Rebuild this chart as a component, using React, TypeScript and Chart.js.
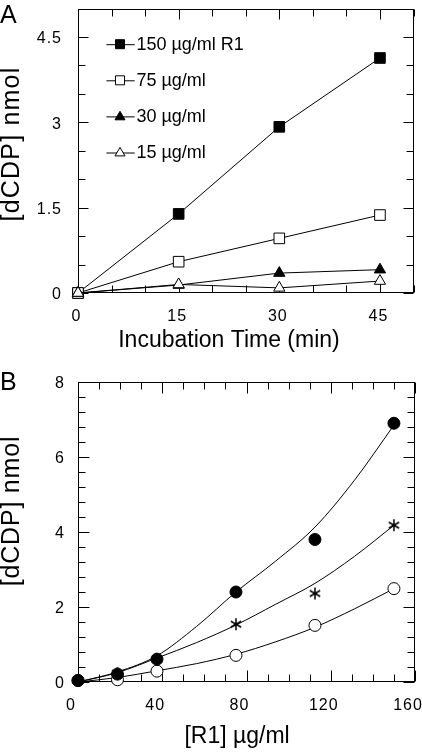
import React, { useEffect, useRef } from 'react';
import { Chart, registerables } from 'chart.js';

Chart.register(...registerables);

const FONT = '"Liberation Sans", Arial, Helvetica, sans-serif';

// ---------- Panel A data ----------
const timeMin = [0, 15, 30, 45];
const r1_150 = [0, 1.39, 2.92, 4.13];
const r1_75 = [0, 0.55, 0.96, 1.37];
const r1_30 = [0, 0.14, 0.35, 0.41];
const r1_15 = [0, 0.15, 0.09, 0.21];
const seriesLabelsA = ['150 µg/ml R1', '75 µg/ml', '30 µg/ml', '15 µg/ml'];
const xTicksA = [0, 15, 30, 45];
const yTicksA = [0, 1.5, 3, 4.5];

// ---------- Panel B data ----------
const r1Conc = [0, 18.75, 37.5, 75, 112.5, 150];
const filledB = [0.04, 0.21, 0.61, 2.4, 3.8, 6.9];
const starB = [0.04, 0.24, 0.6, 1.54, 2.36, 4.18];
const openB = [0.04, 0.06, 0.29, 0.71, 1.51, 2.49];
// fitted curves
const fitX = [0, 18.75, 37.5, 56.25, 75, 93.75, 112.5, 131.25, 150];
const fitFilled = [0, 0.27, 0.7, 1.48, 2.4, 3.22, 4.13, 5.38, 6.85];
const fitStar = [0, 0.25, 0.64, 1.05, 1.52, 2.07, 2.63, 3.35, 4.18];
const fitOpen = [0, 0.12, 0.3, 0.49, 0.74, 1.07, 1.46, 1.95, 2.49];
const xTicksB = [0, 40, 80, 120, 160];
const yTicksB = [0, 2, 4, 6, 8];

const toXY = (xs: number[], ys: number[]) => xs.map((x, i) => ({ x, y: ys[i] }));

const framePlugin = {
  id: 'frame',
  beforeDraw(chart: any) {
    (chart.ctx as any).letterSpacing = '1px';
  },
  beforeDatasetsDraw(chart: any, _a: any, opts: any) {
    const ctx = chart.ctx;
    (ctx as any).letterSpacing = '0px';
    const a = chart.chartArea;
    const xs = chart.scales.x;
    const ys = chart.scales.y;
    ctx.save();
    ctx.strokeStyle = '#000';
    ctx.lineWidth = 1;
    const L = Math.round(a.left) + 0.5;
    const R = Math.round(a.right) - 0.5;
    const T = Math.round(a.top) + 0.5;
    const B = Math.round(a.bottom) - 0.5;
    ctx.strokeRect(L, T, R - L, B - T);
    const gen = (min: number, max: number, step: number, major: number) => {
      const out: { v: number; major: boolean }[] = [];
      for (let i = 0; ; i++) {
        const v = min + i * step;
        if (v > max + 1e-9) break;
        const q = v / major;
        out.push({ v, major: Math.abs(q - Math.round(q)) < 1e-6 });
      }
      return out;
    };
    ctx.beginPath();
    for (const t of gen(xs.min, xs.max, opts.xMinor, opts.xMajor)) {
      const px = Math.round(xs.getPixelForValue(t.v)) + 0.5;
      const len = t.major ? opts.majorLen : opts.minorLen;
      ctx.moveTo(px, B);
      ctx.lineTo(px, B - len);
      ctx.moveTo(px, T);
      ctx.lineTo(px, T + len);
    }
    for (const t of gen(ys.min, ys.max, opts.yMinor, opts.yMajor)) {
      const py = Math.round(ys.getPixelForValue(t.v)) + 0.5;
      const len = t.major ? opts.majorLen : opts.minorLen;
      ctx.moveTo(L, py);
      ctx.lineTo(L + len, py);
      ctx.moveTo(R, py);
      ctx.lineTo(R - len, py);
    }
    ctx.stroke();
    ctx.restore();
  },
};

function drawMarker(ctx: CanvasRenderingContext2D, style: string, x: number, y: number, r: number, fill: string) {
  ctx.beginPath();
  if (style === 'rect') {
    ctx.rect(x - r, y - r, 2 * r, 2 * r);
  } else {
    const h = r * 1.7;
    ctx.moveTo(x, y - h * 0.6);
    ctx.lineTo(x + r, y + h * 0.4);
    ctx.lineTo(x - r, y + h * 0.4);
    ctx.closePath();
  }
  ctx.fillStyle = fill;
  ctx.fill();
  ctx.strokeStyle = '#000';
  ctx.lineWidth = 1;
  ctx.stroke();
}

const annotPlugin = {
  id: 'annot',
  afterDraw(chart: any, _a: any, opts: any) {
    const ctx: CanvasRenderingContext2D = chart.ctx;
    const a = chart.chartArea;
    ctx.save();
    (ctx as any).letterSpacing = '0px';
    ctx.fillStyle = '#000';
    // panel letter
    ctx.font = `25px ${FONT}`;
    ctx.textAlign = 'left';
    ctx.textBaseline = 'alphabetic';
    ctx.fillText(opts.panel, 0, opts.panelBaseline);
    // x title
    ctx.font = `${opts.xTitleSize}px ${FONT}`;
    ctx.textAlign = 'center';
    ctx.fillText(opts.xTitle, a.left + opts.xTitleFrac * (a.right - a.left), opts.xTitleBaseline);
    // legend
    if (opts.legend) {
      const ds = chart.data.datasets;
      ctx.font = `18px ${FONT}`;
      ctx.textAlign = 'left';
      ctx.textBaseline = 'middle';
      for (let i = 0; i < ds.length; i++) {
        const y = a.top + 35.7 + i * 36.1;
        ctx.beginPath();
        ctx.moveTo(a.left + 28.4, y + 0.5);
        ctx.lineTo(a.left + 56.7, y + 0.5);
        ctx.strokeStyle = '#000';
        ctx.lineWidth = 1;
        ctx.stroke();
        drawMarker(ctx, ds[i].pointStyle, a.left + 42, y, ds[i].pointStyle === 'rect' ? 4.5 : 5, ds[i].pointBackgroundColor);
        ctx.fillStyle = '#000';
        ctx.fillText(ds[i].label, a.left + 58.4, y + 1);
      }
    }
    // y title
    ctx.font = `${opts.yTitleSize}px ${FONT}`;
    (ctx as any).letterSpacing = opts.yTitleSpacing;
    ctx.translate(opts.yTitleX, opts.yTitleY);
    ctx.rotate(-Math.PI / 2);
    ctx.textAlign = 'center';
    ctx.textBaseline = 'middle';
    ctx.fillText(opts.yTitle, 0, 0);
    ctx.restore();
  },
};

const tickFont = { family: FONT, size: 16 };

function PanelA() {
  const ref = useRef<HTMLCanvasElement | null>(null);
  useEffect(() => {
    if (!ref.current) return;
    const base = {
      borderColor: '#000',
      borderWidth: 1,
      pointBorderColor: '#000',
      pointBorderWidth: 1,
      showLine: true,
      fill: false,
      tension: 0,
      clip: false as any,
    };
    const chart = new Chart(ref.current, {
      type: 'scatter',
      data: {
        datasets: [
          { ...base, label: seriesLabelsA[0], data: toXY(timeMin, r1_150), pointStyle: 'rect', pointRadius: 7.5, pointBackgroundColor: '#000', order: 3 },
          { ...base, label: seriesLabelsA[1], data: toXY(timeMin, r1_75), pointStyle: 'rect', pointRadius: 7.5, pointBackgroundColor: '#fff', order: 2 },
          { ...base, label: seriesLabelsA[2], data: toXY(timeMin, r1_30), pointStyle: 'triangle', pointRadius: 6.5, pointBackgroundColor: '#000', order: 1 },
          { ...base, label: seriesLabelsA[3], data: toXY(timeMin, r1_15), pointStyle: 'triangle', pointRadius: 6.5, pointBackgroundColor: '#fff', order: 0 },
        ] as any,
      },
      options: {
        animation: false,
        responsive: false,
        events: [],
        layout: { padding: { left: 0, top: 1, right: 5, bottom: 0 } },
        plugins: {
          legend: { display: false },
          tooltip: { enabled: false },
          frame: { xMinor: 5, xMajor: 15, yMinor: 0.5, yMajor: 1.5, majorLen: 10, minorLen: 7 },
          annot: {
            panel: 'A', panelBaseline: 23,
            xTitle: 'Incubation Time (min)', xTitleSize: 23, xTitleFrac: 0.45, xTitleBaseline: 347,
            yTitle: '[dCDP] nmol', yTitleSize: 25, yTitleSpacing: '1.2px', yTitleX: 12, yTitleY: 144,
            legend: true,
          },
        } as any,
        scales: {
          x: {
            type: 'linear', min: 0, max: 50,
            grid: { display: false, drawTicks: false },
            border: { display: false },
            ticks: { font: tickFont, color: '#000', padding: 14, maxRotation: 0, labelOffset: -1.5 },
            afterBuildTicks: (s: any) => { s.ticks = xTicksA.map((v) => ({ value: v })); },
            afterFit: (s: any) => { s.height = 77; s.paddingLeft = 0; s.paddingRight = 0; },
          },
          y: {
            type: 'linear', min: 0, max: 5,
            grid: { display: false, drawTicks: false },
            border: { display: false },
            ticks: { font: tickFont, color: '#000', padding: 16, labelOffset: 2 },
            afterBuildTicks: (s: any) => { s.ticks = yTicksA.map((v) => ({ value: v })); },
            afterFit: (s: any) => { s.width = 78; s.paddingTop = 0; s.paddingBottom = 0; },
          },
        } as any,
      },
      plugins: [framePlugin, annotPlugin],
    });
    return () => chart.destroy();
  }, []);
  return <canvas ref={ref} width={422} height={370} style={{ position: 'absolute', left: 0, top: 0, width: 422, height: 370 }} />;
}

function makeAsterisk(): HTMLCanvasElement {
  const c = document.createElement('canvas');
  c.width = 14;
  c.height = 14;
  const g = c.getContext('2d')!;
  g.strokeStyle = '#000';
  g.lineWidth = 1.5;
  g.beginPath();
  const cx = 7, cy = 7, r = 6;
  for (const ang of [0, 60, 120]) {
    const rad = (ang * Math.PI) / 180;
    g.moveTo(cx + Math.sin(rad) * r, cy - Math.cos(rad) * r);
    g.lineTo(cx - Math.sin(rad) * r, cy + Math.cos(rad) * r);
  }
  g.stroke();
  return c;
}

function PanelB() {
  const ref = useRef<HTMLCanvasElement | null>(null);
  useEffect(() => {
    if (!ref.current) return;
    const curve = {
      borderColor: '#000', borderWidth: 1, pointRadius: 0, pointHoverRadius: 0,
      showLine: true, fill: false, cubicInterpolationMode: 'monotone', order: 10,
    };
    const pts = { showLine: false, pointBorderColor: '#000', pointBorderWidth: 1, clip: false as any };
    const chart = new Chart(ref.current, {
      type: 'scatter',
      data: {
        datasets: [
          { ...curve, label: 'fit filled', data: toXY(fitX, fitFilled) },
          { ...curve, label: 'fit star', data: toXY(fitX, fitStar) },
          { ...curve, label: 'fit open', data: toXY(fitX, fitOpen) },
          { ...pts, label: 'open', data: toXY(r1Conc, openB), pointStyle: 'circle', pointRadius: 6, pointBackgroundColor: '#fff', order: 2 },
          { ...pts, label: 'star', data: toXY(r1Conc, starB), pointStyle: makeAsterisk(), pointRadius: 6, order: 1 },
          { ...pts, label: 'filled', data: toXY(r1Conc, filledB), pointStyle: 'circle', pointRadius: 6, pointBackgroundColor: '#000', order: 0 },
        ] as any,
      },
      options: {
        animation: false,
        responsive: false,
        events: [],
        layout: { padding: { left: 0, top: 12, right: 5, bottom: 0 } },
        plugins: {
          legend: { display: false },
          tooltip: { enabled: false },
          frame: { xMinor: 10, xMajor: 40, yMinor: 0.4, yMajor: 2, majorLen: 11, minorLen: 7 },
          annot: {
            panel: 'B', panelBaseline: 20,
            xTitle: '[R1] µg/ml', xTitleSize: 23, xTitleFrac: 0.472, xTitleBaseline: 372.7,
            yTitle: '[dCDP] nmol', yTitleSize: 25, yTitleSpacing: '0.8px', yTitleX: 12, yTitleY: 141,
            legend: false,
          },
        } as any,
        scales: {
          x: {
            type: 'linear', min: 0, max: 160,
            grid: { display: false, drawTicks: false },
            border: { display: false },
            ticks: { font: tickFont, color: '#000', padding: 14, maxRotation: 0, labelOffset: -7 },
            afterBuildTicks: (s: any) => { s.ticks = xTicksB.map((v) => ({ value: v })); },
            afterFit: (s: any) => { s.height = 70; s.paddingLeft = 0; s.paddingRight = 0; },
          },
          y: {
            type: 'linear', min: 0, max: 8,
            grid: { display: false, drawTicks: false },
            border: { display: false },
            ticks: { font: tickFont, color: '#000', padding: 13, labelOffset: 1.5 },
            afterBuildTicks: (s: any) => { s.ticks = yTicksB.map((v) => ({ value: v })); },
            afterFit: (s: any) => { s.width = 78; s.paddingTop = 0; s.paddingBottom = 0; },
          },
        } as any,
      },
      plugins: [framePlugin, annotPlugin],
    });
    return () => chart.destroy();
  }, []);
  return <canvas ref={ref} width={422} height={382} style={{ position: 'absolute', left: 0, top: 370, width: 422, height: 382 }} />;
}

export default function App() {
  return (
    <div style={{ position: 'absolute', left: 0, top: 0, width: 422, height: 752, background: '#fff' }}>
      <PanelA />
      <PanelB />
    </div>
  );
}
